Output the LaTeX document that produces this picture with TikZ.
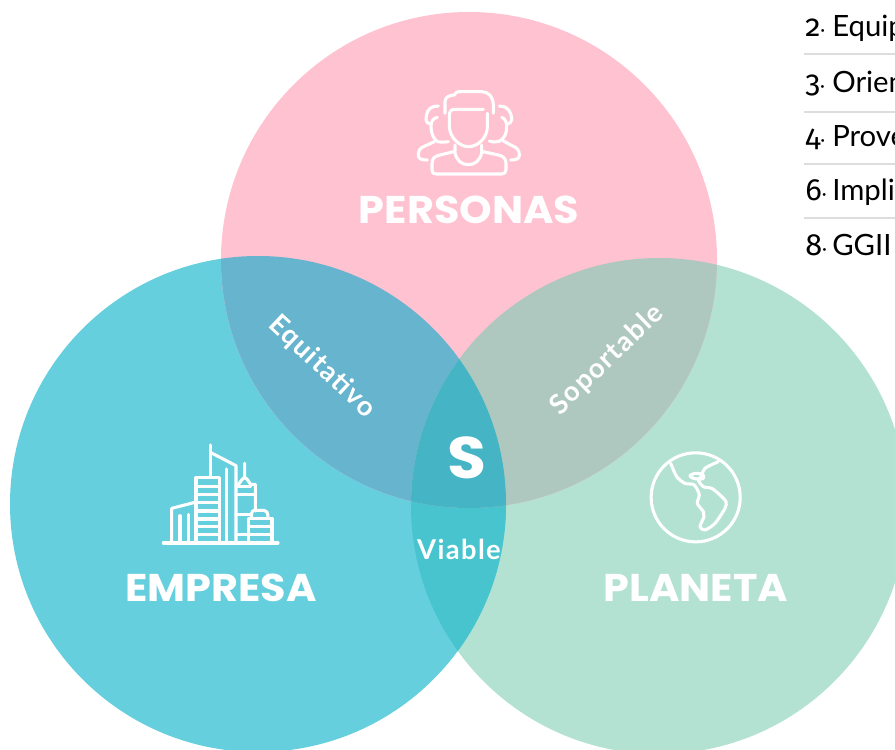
\documentclass[tikz,border=0pt]{standalone}
\usepackage{fontspec}
\setmainfont{Lato}
\newfontfamily\headfont{Poppins}
\newfontfamily\midfont[LetterSpace=5]{Lato}
\newfontfamily\digitfont[Numbers=OldStyle]{Fira Sans}
\definecolor{cpink}{HTML}{FFC2D1}
\definecolor{cteal}{HTML}{66CFDE}
\definecolor{cmint}{HTML}{B3E2D3}
\definecolor{cpt}{HTML}{66B4CD}
\definecolor{cpm}{HTML}{AFC8BF}
\definecolor{ctm}{HTML}{47C4CD}
\definecolor{call}{HTML}{45B4C4}
\definecolor{crule}{HTML}{DDDDDD}
\tikzset{
  headlabel/.style={text=white,font=\headfont\bfseries\fontsize{29}{29}\selectfont,inner sep=0pt,xscale=1.07},
  midlabel/.style={text=white,font=\midfont\bfseries\fontsize{20.5}{20.5}\selectfont,inner sep=0pt},
  listitem/.style={anchor=base west,text=black,font=\fontsize{22}{22}\selectfont,inner sep=0pt},
  listrule/.style={draw=crule,line width=1pt},
  icon/.style={draw=white,line width=2.3pt,line cap=round,line join=round},
}
\newcommand{\listentry}[2]{\makebox[20.25pt][l]{{\digitfont\fontsize{23}{23}\selectfont #1}{\fontsize{14}{14}\selectfont ·}}#2}
\begin{document}
\begin{tikzpicture}[x=.75pt,y=-.75pt]
\useasboundingbox (0,0) rectangle (895,749);
\clip (0,0) rectangle (895,749);
\coordinate (cP) at (469,260);
\coordinate (cE) at (258,504);
\coordinate (cL) at (659,506);
\def\rr{186pt}
% circles
\fill[cmint] (cL) circle[radius=\rr];
\fill[cteal] (cE) circle[radius=\rr];
\fill[cpink] (cP) circle[radius=\rr];
\begin{scope}\clip (cE) circle[radius=\rr]; \fill[ctm] (cL) circle[radius=\rr]; \end{scope}
\begin{scope}\clip (cP) circle[radius=\rr]; \fill[cpt] (cE) circle[radius=\rr]; \end{scope}
\begin{scope}\clip (cP) circle[radius=\rr]; \fill[cpm] (cL) circle[radius=\rr]; \end{scope}
\begin{scope}\clip (cP) circle[radius=\rr]; \clip (cE) circle[radius=\rr]; \fill[call] (cL) circle[radius=\rr]; \end{scope}
% labels
\node[headlabel] (persona) at (469,210) {PERSONAS};
\node[headlabel] (empresa) at (221,588) {EMPRESA};
\node[headlabel] (planeta) at (696,588) {PLANETA};
\node[midlabel,rotate=-43] (equi) at (322,367) {Equitativo};
\node[midlabel,rotate=44] (sopo) at (607,360) {Soportable};
\node[midlabel] (viab) at (459,549) {Viable};
\node[text=white,font=\headfont\bfseries\fontsize{44}{44}\selectfont,inner sep=0pt,xscale=1.08] (ess) at (467,458) {S};
% list
\node[listitem] (l2) at (805,37) {\listentry{2}{Equip}};
\node[listitem] (l3) at (805,92) {\listentry{3}{Orien}};
\node[listitem] (l4) at (805,146) {\listentry{4}{Prove}};
\node[listitem] (l6) at (805,200) {\listentry{6}{Impli}};
\node[listitem] (l8) at (805,255) {\listentry{8}{GGII}};
\draw[listrule] (804,54) -- (895,54);
\draw[listrule] (804,112) -- (895,112);
\draw[listrule] (804,164) -- (895,164);
\draw[listrule] (804,218) -- (895,218);
% people icon
\begin{scope}[shift={(400,80)},x=.25pt,y=-.25pt]
\draw[icon] (250,88) -- (165,88) .. controls (152,88) and (148,95) .. (148,108) -- (148,140) .. controls (150,175) and (180,200) .. (205,200) .. controls (232,200) and (262,175) .. (262,140) -- (262,100);
\draw[icon] (135,100) -- (135,65) .. controls (135,50) and (150,45) .. (163,45) .. controls (165,38) and (170,35) .. (180,35) -- (245,35) .. controls (265,35) and (280,50) .. (280,75) -- (280,100);
\draw[icon] (96,270) -- (96,250) .. controls (96,235) and (105,228) .. (120,225) -- (165,214) -- (165,195);
\draw[icon] (165,218) .. controls (170,242) and (185,254) .. (205,254) .. controls (225,254) and (240,242) .. (245,218);
\draw[icon] (245,195) -- (245,214) -- (295,225) .. controls (310,228) and (318,237) .. (318,250) -- (318,270) .. controls (318,278) and (312,282) .. (305,282) -- (108,282) .. controls (100,282) and (96,278) .. (96,270);
\draw[icon] (115,78) -- (100,80) .. controls (85,85) and (78,98) .. (78,120) .. controls (78,125) and (85,132) .. (90,132);
\draw[icon] (112,112) .. controls (98,115) and (93,125) .. (93,140) .. controls (93,160) and (100,175) .. (112,185) .. controls (120,187) and (130,187) .. (145,185);
\draw[icon] (103,185) -- (75,198) .. controls (60,203) and (55,212) .. (55,225) .. controls (55,236) and (62,240) .. (82,240);
\draw[icon] (298,78) -- (312,80) .. controls (325,85) and (335,98) .. (335,120) .. controls (335,125) and (328,132) .. (322,132);
\draw[icon] (305,112) .. controls (315,115) and (320,125) .. (320,140) .. controls (320,160) and (313,175) .. (300,183) .. controls (290,187) and (280,187) .. (268,183);
\draw[icon] (310,183) -- (338,198) .. controls (352,203) and (358,212) .. (358,225) .. controls (358,236) and (350,240) .. (332,240);
\end{scope}
% city icon
\begin{scope}[shift={(150,435)},x=.25pt,y=-.25pt]
\draw[icon] (40,324) -- (384,324);
\draw[icon] (65,324) -- (65,220) -- (135,202);
\draw[icon] (90,324) -- (90,242) (115,324) -- (115,238);
\draw[icon] (138,324) -- (138,128) -- (208,128) -- (208,324);
\foreach \yy in {155,178,203,228,252,275,298} \draw[icon] (138,\yy) -- (208,\yy);
\draw[icon] (181,30) -- (181,128);
\draw[icon] (181,52) -- (258,92) -- (258,324);
\draw[icon] (230,102) -- (230,324);
\draw[icon] (284,85) -- (284,128) .. controls (275,130) and (272,142) .. (262,152);
\draw[icon] (284,128) .. controls (293,130) and (296,142) .. (302,148) -- (316,148) -- (316,228);
\draw[icon] (258,155) -- (302,155);
\draw[icon] (258,178) -- (316,178) (258,238) -- (300,238) (258,298) -- (296,298);
\draw[icon] (296,324) -- (296,250) -- (366,250) -- (366,324);
\draw[icon] (305,250) -- (305,235) .. controls (305,228) and (310,226) .. (315,226) -- (342,226) .. controls (350,226) and (354,232) .. (354,250);
\draw[icon] (296,275) -- (366,275) (296,298) -- (366,298);
\end{scope}
% globe icon
\begin{scope}[shift={(640,445)},x=.25pt,y=-.25pt]
\draw[icon] (167,157) circle[radius=33.4pt];
\draw[icon] plot[smooth,tension=.45] coordinates {(92,55) (110,95) (135,115) (160,118) (170,130) (178,150) (172,175) (190,200) (192,215) (180,245) (195,255) (225,235) (255,190) (258,170) (240,150) (215,130) (190,125) (175,105) (190,100) (188,88) (165,85) (150,92) (160,100) (180,100) (195,70) (235,50)};
\end{scope}
\end{tikzpicture}
\end{document}
